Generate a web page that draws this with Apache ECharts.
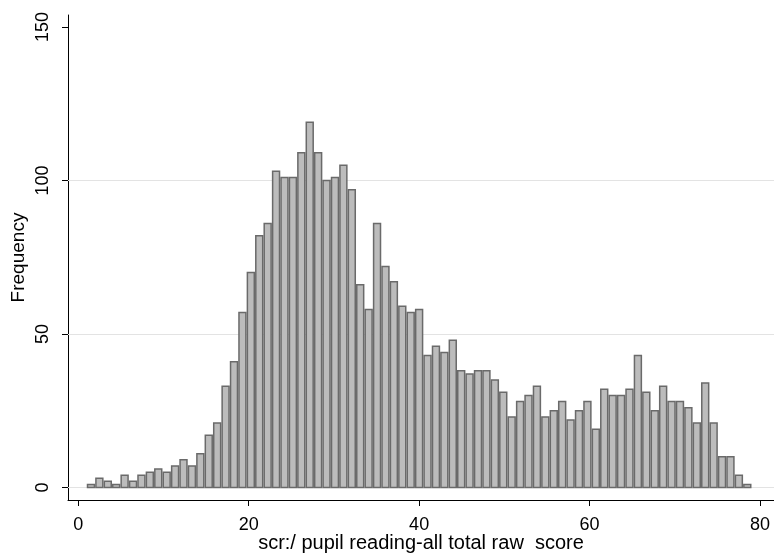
<!DOCTYPE html>
<html>
<head>
<meta charset="utf-8">
<script src="https://cdn.jsdelivr.net/npm/echarts@6/dist/echarts.min.js"></script>
<style>
html,body{margin:0;padding:0;background:#fff;}
#chart{width:774px;height:556px;}
</style>
</head>
<body>
<div id="chart"></div>
<script>
// Histogram of scr: pupil reading-all total raw score (79 bins spanning 1..79)
const binMin = 1;
const binMax = 79;
const frequencies = [
  1, 3, 2, 1, 4, 2, 4, 5, 6, 5,
  7, 9, 7, 11, 17, 21, 33, 41, 57, 70,
  82, 86, 103, 101, 101, 109, 119, 109, 100, 101,
  105, 97, 66, 58, 86, 72, 67, 59, 57, 58,
  43, 46, 44, 48, 38, 37, 38, 38, 35, 31,
  23, 28, 30, 33, 23, 25, 28, 22, 25, 28,
  19, 32, 30, 30, 32, 43, 31, 25, 33, 28,
  28, 26, 21, 34, 21, 10, 10, 4, 1
];
const xTicks = [0, 20, 40, 60, 80];
const yTicks = [0, 50, 100, 150];
const gridLevels = [0, 50, 100];
const xTitle = 'scr:/ pupil reading-all total raw  score';
const yTitle = 'Frequency';

const binWidth = (binMax - binMin) / frequencies.length;
const histData = frequencies.map((f, i) => [binMin + i * binWidth, binMin + (i + 1) * binWidth, f]);

const FONT = '"Liberation Sans", Arial, Helvetica, sans-serif';
const chart = echarts.init(document.getElementById('chart'), null, {renderer: 'canvas'});
chart.setOption({
  animation: false,
  backgroundColor: '#ffffff',
  grid: {left: 68, right: 0, top: 15, bottom: 56, containLabel: false, outerBoundsMode: 'none'},
  xAxis: {
    type: 'value',
    min: -1.2,
    max: 81.64,
    axisLine: {show: true, onZero: false, lineStyle: {color: '#000', width: 1}},
    axisTick: {show: true, length: 6, customValues: xTicks, lineStyle: {color: '#000', width: 1}},
    axisLabel: {show: true, customValues: xTicks, margin: 16, fontSize: 18, color: '#000', fontFamily: FONT},
    splitLine: {show: false},
    name: xTitle,
    nameLocation: 'middle',
    nameGap: 33,
    nameMoveOverlap: false,
    nameTextStyle: {fontSize: 20, color: '#000', fontFamily: FONT}
  },
  yAxis: {
    type: 'value',
    min: -4.07,
    max: 153.9,
    axisLine: {show: true, onZero: false, lineStyle: {color: '#000', width: 1}},
    axisTick: {show: true, length: 6, customValues: yTicks, lineStyle: {color: '#000', width: 1}},
    axisLabel: {show: true, customValues: yTicks, rotate: 90, margin: 16, fontSize: 18, color: '#000', fontFamily: FONT},
    splitLine: {show: false},
    name: yTitle,
    nameLocation: 'middle',
    nameGap: 40,
    nameRotate: 90,
    nameMoveOverlap: false,
    nameTextStyle: {fontSize: 19, color: '#000', fontFamily: FONT}
  },
  series: [
    {
      type: 'line',
      data: [],
      silent: true,
      markLine: {
        z: 1,
        silent: true,
        symbol: ['none', 'none'],
        label: {show: false},
        lineStyle: {color: '#e3e3e3', width: 1, type: 'solid'},
        data: gridLevels.map(v => ({yAxis: v}))
      }
    },
    {
      type: 'custom',
      z: 3,
      data: histData,
      encode: {x: [0, 1], y: 2},
      renderItem: function (params, api) {
        const lo = api.coord([api.value(0), 0]);
        const hi = api.coord([api.value(1), api.value(2)]);
        return {
          type: 'rect',
          shape: {x: lo[0] + 0.75, y: hi[1], width: hi[0] - lo[0] - 1.5, height: lo[1] - hi[1]},
          style: {fill: '#bcbcbc', stroke: '#6a6a6a', lineWidth: 1.5}
        };
      }
    }
  ]
});
</script>
</body>
</html>
